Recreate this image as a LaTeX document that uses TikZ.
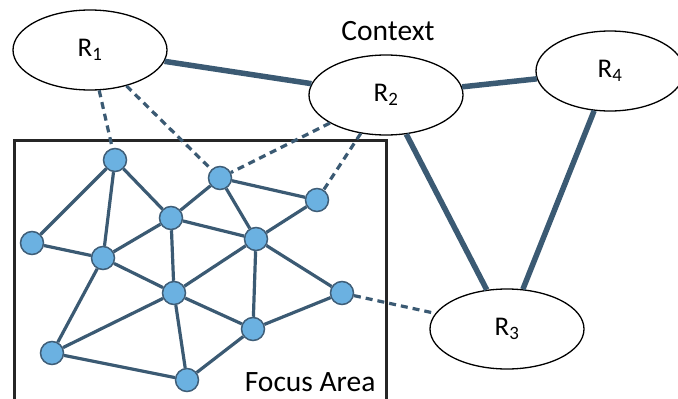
\documentclass[tikz,border=0pt]{standalone}
\usepackage{fontspec}
\setmainfont{Carlito}
\usetikzlibrary{scopes,shapes.geometric}

\definecolor{linkc}{HTML}{3B5A73}
\definecolor{vfill}{HTML}{6BB1E1}
\definecolor{vborder}{HTML}{3F5E78}

\begin{document}
\begin{tikzpicture}[x=1pt,y=-1pt,
    region/.style={ellipse,draw=black,fill=white,line width=1.3pt,minimum width=154pt,minimum height=80pt,inner sep=0pt,font=\fontsize{27}{27}\selectfont},
    vertex/.style={circle,draw=vborder,fill=vfill,line width=1.5pt,minimum size=23pt,inner sep=0pt},
    edge/.style={draw=linkc,line width=3.2pt},
    link/.style={draw=linkc,line width=5.5pt},
    hint/.style={draw=linkc,line width=3.2pt,dash pattern=on 7pt off 5pt},
    frame/.style={draw=black!85,line width=3pt},
    caption/.style={font=\fontsize{29.5}{29.5}\selectfont},
]
    \useasboundingbox (0,0) rectangle (678,399);

    % Focus area frame
    \draw[frame] (14,140) rectangle (386,420);
    \node[caption,anchor=east] (focus) at (379,382) {Focus Area};

    % Context regions
    \node[region] (r1) at (90,50) {R\textsubscript{1}};
    \node[region] (r2) at (386,95) {R\textsubscript{2}};
    \node[region] (r3) at (507,329) {R\textsubscript{3}};
    \node[region,minimum width=148pt] (r4) at (610,71) {R\textsubscript{4}};
    \node[caption] (context) at (388,31) {Context};

    % Graph inside the focus area
    \node[vertex] (n1) at (115,160) {};
    \node[vertex] (n2) at (220,178) {};
    \node[vertex] (n3) at (317,200) {};
    \node[vertex] (n4) at (171,218) {};
    \node[vertex] (n5) at (256,239) {};
    \node[vertex] (n6) at (32,243) {};
    \node[vertex] (n7) at (103,258) {};
    \node[vertex] (n8) at (174,293) {};
    \node[vertex] (n9) at (342,293) {};
    \node[vertex] (n10) at (253,329) {};
    \node[vertex] (n11) at (52,353) {};
    \node[vertex] (n12) at (187,380) {};

    {[edge]
        \draw (n1) -- (n6) (n1) -- (n7) (n1) -- (n4);
        \draw (n2) -- (n4) (n2) -- (n5) (n2) -- (n3);
        \draw (n3) -- (n5);
        \draw (n4) -- (n7) (n4) -- (n5) (n4) -- (n8);
        \draw (n6) -- (n7);
        \draw (n7) -- (n8) (n7) -- (n11);
        \draw (n8) -- (n5) (n8) -- (n10) (n8) -- (n12) (n8) -- (n11);
        \draw (n5) -- (n10) (n5) -- (n9);
        \draw (n9) -- (n10);
        \draw (n10) -- (n12);
        \draw (n11) -- (n12);
    }

    % Links between regions
    {[link]
        \draw (r1) -- (r2);
        \draw (r2) -- (r4);
        \draw (r2) -- (r3);
        \draw (r4) -- (r3);
    }

    % Region to focus links
    {[hint]
        \draw (r1) -- (n1);
        \draw (r1) -- (n2);
        \draw (r2) -- (n2);
        \draw (r2) -- (n3);
        \draw (n9) -- (r3);
    }
\end{tikzpicture}
\end{document}
